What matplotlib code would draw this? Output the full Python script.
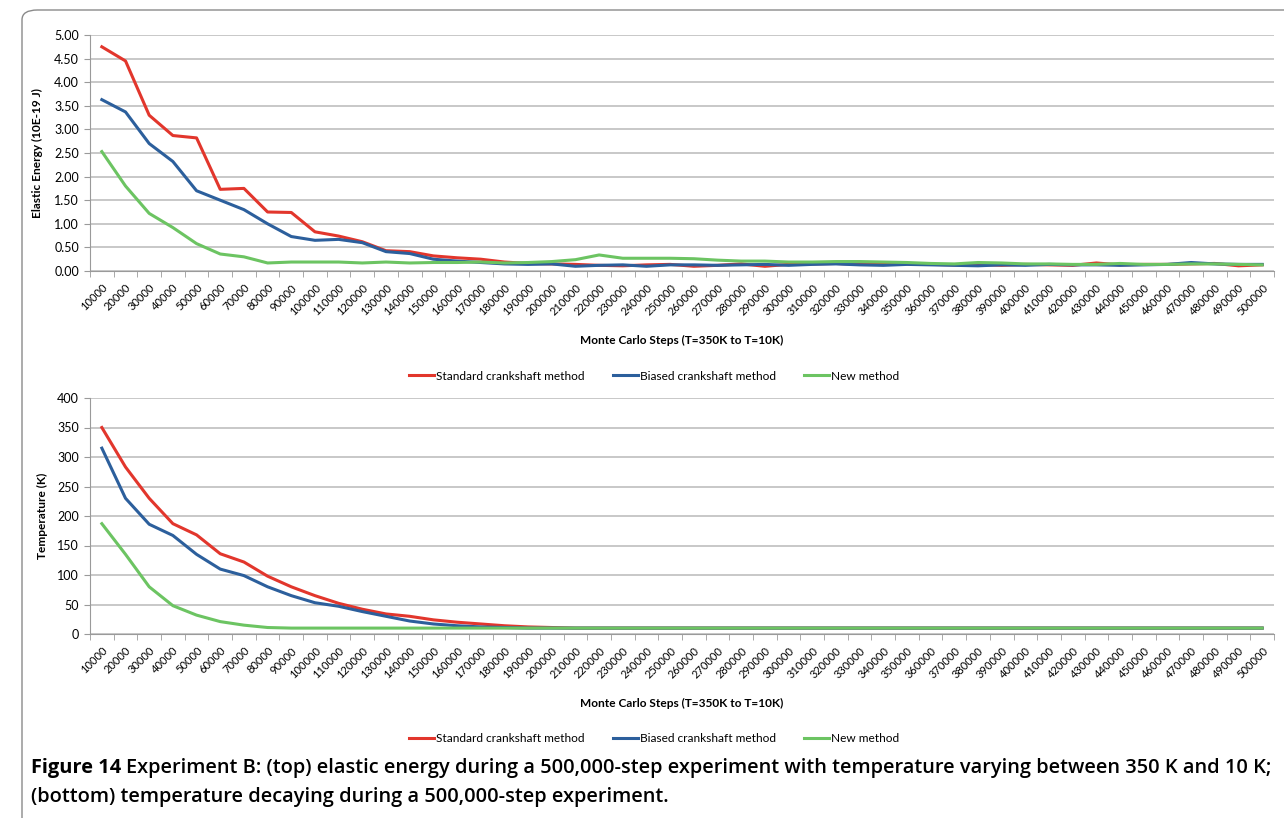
import numpy as np
import matplotlib
matplotlib.use("Agg")
import matplotlib.pyplot as plt
from matplotlib.patches import FancyBboxPatch

plt.rcParams['font.family'] = ['Lato', 'DejaVu Sans']

steps = [str(s) for s in range(10000, 500001, 10000)]

# elastic energy (10E-19 J)
energy_std = [4.75, 4.45, 3.30, 2.87, 2.82, 1.73, 1.75, 1.25, 1.24, 0.83,
              0.74, 0.62, 0.43, 0.41, 0.32, 0.28, 0.25, 0.19, 0.16, 0.15,
              0.14, 0.12, 0.11, 0.13, 0.14, 0.10, 0.12, 0.15, 0.10, 0.14,
              0.15, 0.16, 0.14, 0.15, 0.15, 0.14, 0.13, 0.14, 0.12, 0.14,
              0.13, 0.12, 0.17, 0.13, 0.14, 0.14, 0.15, 0.16, 0.11, 0.13]
energy_bias = [3.63, 3.37, 2.70, 2.32, 1.70, 1.50, 1.30, 1.00, 0.73, 0.65,
               0.67, 0.60, 0.41, 0.37, 0.25, 0.21, 0.18, 0.15, 0.14, 0.15,
               0.10, 0.12, 0.13, 0.10, 0.13, 0.13, 0.12, 0.13, 0.14, 0.12,
               0.14, 0.15, 0.13, 0.12, 0.14, 0.13, 0.12, 0.11, 0.13, 0.12,
               0.14, 0.13, 0.13, 0.12, 0.13, 0.14, 0.18, 0.15, 0.14, 0.14]
energy_new = [2.53, 1.80, 1.22, 0.92, 0.58, 0.36, 0.30, 0.17, 0.19, 0.19,
              0.19, 0.17, 0.19, 0.17, 0.18, 0.18, 0.19, 0.17, 0.18, 0.20,
              0.24, 0.34, 0.27, 0.27, 0.27, 0.26, 0.23, 0.21, 0.21, 0.19,
              0.19, 0.20, 0.20, 0.19, 0.18, 0.16, 0.15, 0.18, 0.17, 0.15,
              0.15, 0.14, 0.14, 0.16, 0.14, 0.14, 0.15, 0.15, 0.14, 0.13]

# temperature (K)
temp_std = [350, 283, 230, 187, 168, 136, 122, 98, 80, 65,
            52, 42, 34, 30, 24, 20, 17, 14, 12, 11] + [10] * 30
temp_bias = [315, 230, 186, 167, 135, 110, 99, 80, 65, 53,
             47, 38, 30, 22, 17, 14, 12, 11] + [10] * 32
temp_new = [187, 135, 80, 48, 32, 21, 15, 11, 10, 10] + [10] * 40

labels = ["Standard crankshaft method", "Biased crankshaft method", "New method"]
colors = ["#e2362c", "#2c5f9c", "#6cc462"]
xlabel = "Monte Carlo Steps (T=350K to T=10K)"

W, H = 1284, 818
fig = plt.figure(figsize=(W / 100, H / 100), dpi=100)

# rounded border of the figure panel
border = FancyBboxPatch((22 / W, 1 - 1200 / H), 1400 / W, 1190 / H,
                        boxstyle="round,pad=0,rounding_size=0.012",
                        transform=fig.transFigure, fill=False,
                        edgecolor="#8a8a8a", linewidth=1.0)
fig.patches.append(border)

left, right = 90 / W, 1274 / W


def style_axes(ax, yticks, fmt, ylabel):
    x = np.arange(len(steps))
    ax.set_xlim(-0.5, len(steps) - 0.5)
    ax.set_ylim(yticks[0], yticks[-1])
    ax.set_yticks(yticks)
    ax.set_yticklabels([fmt.format(v) for v in yticks], fontsize=9)
    ax.set_xticks(x)
    ax.set_xticklabels(steps, rotation=45, ha="right", va="top",
                       rotation_mode="anchor", fontsize=8)
    ax.set_xticks(np.arange(-0.5, len(steps)), minor=True)
    ax.tick_params(axis="x", which="major", length=0, pad=8)
    ax.tick_params(axis="x", which="minor", length=4, color="#9a9a9a")
    ax.tick_params(axis="y", length=4, color="#9a9a9a", pad=4)
    ax.grid(axis="y", color="#c4c4c4", linewidth=1.3)
    ax.set_axisbelow(True)
    for s in ["top", "right"]:
        ax.spines[s].set_visible(False)
    for s in ["left", "bottom"]:
        ax.spines[s].set_color("#9a9a9a")
    ax.set_ylabel(ylabel, fontsize=8.6, fontweight="bold")
    ax.set_xlabel(xlabel, fontsize=8.6, fontweight="bold")


ax1 = fig.add_axes([left, 1 - 271 / H, right - left, (271 - 35) / H])
ax2 = fig.add_axes([left, 1 - 634 / H, right - left, (634 - 398) / H])

x = np.arange(len(steps))
for vals, lab, c in zip([energy_std, energy_bias, energy_new], labels, colors):
    ax1.plot(x, vals, color=c, lw=2.2, label=lab, solid_joinstyle="round")
for vals, lab, c in zip([temp_std, temp_bias, temp_new], labels, colors):
    ax2.plot(x, vals, color=c, lw=2.2, label=lab, solid_joinstyle="round")

style_axes(ax1, np.arange(0, 5.01, 0.5), "{:.2f}", "Elastic Energy (10E-19 J)")
style_axes(ax2, np.arange(0, 401, 50), "{:.0f}", "Temperature (K)")
ax1.yaxis.set_label_coords(-0.0397, 0.5)
ax2.yaxis.set_label_coords(-0.0355, 0.5)
ax1.xaxis.set_label_coords(0.5, -(335 - 271) / (271 - 35))
ax2.xaxis.set_label_coords(0.5, -(698 - 634) / (634 - 398))

for ax, ly in [(ax1, 376), (ax2, 739)]:
    h, l = ax.get_legend_handles_labels()
    fig.legend(h, l, loc="center", bbox_to_anchor=(654 / W, 1 - ly / H),
               ncol=3, frameon=False, fontsize=8.6, handlelength=2.1,
               handletextpad=0.15, columnspacing=2.4)

# caption
cap_y1 = 1 - 768 / H
cap_y2 = 1 - 797 / H
cap_font = ['Open Sans', 'DejaVu Sans']
t1 = fig.text(31 / W, cap_y1, "Figure 14", fontsize=14.4, fontweight="bold",
              family=cap_font, va="center")
fig.canvas.draw()
bb = t1.get_window_extent()
fig.text((bb.x1 + 5) / W, cap_y1,
         "Experiment B: (top) elastic energy during a 500,000-step experiment "
         "with temperature varying between 350 K and 10 K;",
         fontsize=14.4, fontweight="semibold", family=cap_font, va="center")
fig.text(31 / W, cap_y2,
         "(bottom) temperature decaying during a 500,000-step experiment.",
         fontsize=14.4, fontweight="semibold", family=cap_font, va="center")

fig.savefig("out.png", dpi=100)
